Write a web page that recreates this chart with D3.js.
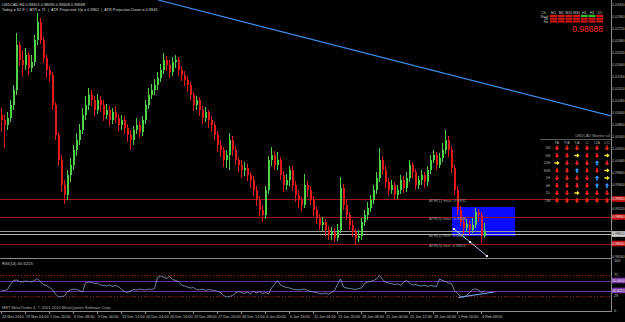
<!DOCTYPE html>
<html>
<head>
<meta charset="utf-8">
<script src="https://cdn.jsdelivr.net/npm/d3@7"></script>
<style>
  html, body { margin: 0; padding: 0; background: #000; }
  svg { display: block; }
  text { font-family: "Liberation Sans", Arial, sans-serif; }
</style>
</head>
<body>
<svg id="chart"></svg>
<script>
// USDCAD candles (one slot each)
const opens = [
  1.0100, 1.0090, 1.0080, 1.0094, 1.0120, 1.0150, 1.0240, 1.0210, 1.0200, 1.0220,
  1.0194, 1.0206, 1.0250, 1.0286, 1.0250, 1.0214, 1.0190, 1.0180, 1.0120, 1.0060,
  1.0010, 0.9960, 0.9940, 0.9980, 1.0000, 1.0030, 1.0050, 1.0070, 1.0100, 1.0120,
  1.0140, 1.0130, 1.0110, 1.0130, 1.0120, 1.0100, 1.0110, 1.0090, 1.0106, 1.0094,
  1.0080, 1.0090, 1.0074, 1.0060, 1.0050, 1.0070, 1.0080, 1.0066, 1.0090, 1.0120,
  1.0140, 1.0150, 1.0160, 1.0174, 1.0190, 1.0210, 1.0200, 1.0186, 1.0206, 1.0210,
  1.0190, 1.0180, 1.0170, 1.0160, 1.0140, 1.0120, 1.0130, 1.0110, 1.0094, 1.0106,
  1.0090, 1.0080, 1.0060, 1.0040, 1.0030, 1.0010, 1.0020, 1.0050, 1.0030, 1.0010,
  1.0000, 0.9990, 0.9994, 0.9980, 0.9970, 0.9950, 0.9930, 0.9910, 0.9900, 0.9950,
  1.0010, 1.0020, 1.0000, 1.0010, 0.9980, 0.9960, 0.9970, 0.9990, 0.9960, 0.9940,
  0.9930, 0.9920, 0.9960, 0.9950, 0.9930, 0.9910, 0.9894, 0.9880, 0.9886, 0.9870,
  0.9860, 0.9866, 0.9854, 0.9870, 0.9954, 0.9920, 0.9900, 0.9880, 0.9866, 0.9854,
  0.9858, 0.9886, 0.9900, 0.9914, 0.9930, 0.9950, 0.9974, 1.0010, 0.9990, 0.9966,
  0.9950, 0.9960, 0.9940, 0.9950, 0.9970, 0.9954, 0.9974, 1.0000, 0.9986, 0.9960,
  0.9970, 0.9980, 0.9966, 0.9990, 1.0010, 1.0020, 1.0000, 1.0014, 1.0030, 1.0050,
  1.0030, 0.9994, 0.9950, 0.9910, 0.9886, 0.9874, 0.9882, 0.9870, 0.9880, 0.9906,
  0.9900, 0.9858
];
const highs = [
  1.0114, 1.0100, 1.0106, 1.0130, 1.0160, 1.0264, 1.0246, 1.0230, 1.0234, 1.0226,
  1.0220, 1.0260, 1.0304, 1.0294, 1.0256, 1.0220, 1.0198, 1.0186, 1.0126, 1.0066,
  1.0020, 0.9970, 0.9990, 1.0014, 1.0040, 1.0064, 1.0082, 1.0114, 1.0138, 1.0154,
  1.0150, 1.0138, 1.0142, 1.0138, 1.0130, 1.0122, 1.0118, 1.0114, 1.0118, 1.0102,
  1.0100, 1.0098, 1.0082, 1.0070, 1.0078, 1.0094, 1.0088, 1.0098, 1.0130, 1.0154,
  1.0162, 1.0172, 1.0186, 1.0202, 1.0224, 1.0218, 1.0210, 1.0216, 1.0220, 1.0216,
  1.0198, 1.0188, 1.0178, 1.0166, 1.0146, 1.0138, 1.0136, 1.0118, 1.0116, 1.0110,
  1.0098, 1.0086, 1.0068, 1.0050, 1.0036, 1.0030, 1.0064, 1.0058, 1.0038, 1.0016,
  1.0010, 1.0006, 1.0002, 0.9986, 0.9978, 0.9958, 0.9938, 0.9920, 0.9958, 1.0018,
  1.0036, 1.0028, 1.0026, 1.0016, 0.9988, 0.9982, 0.9998, 0.9998, 0.9968, 0.9950,
  0.9936, 0.9982, 0.9968, 0.9958, 0.9938, 0.9918, 0.9902, 0.9896, 0.9892, 0.9878,
  0.9876, 0.9874, 0.9882, 0.9976, 0.9962, 0.9930, 0.9906, 0.9890, 0.9872, 0.9870,
  0.9894, 0.9910, 0.9926, 0.9940, 0.9960, 0.9986, 1.0034, 1.0018, 0.9998, 0.9974,
  0.9970, 0.9966, 0.9960, 0.9980, 0.9978, 0.9986, 1.0010, 1.0006, 0.9992, 0.9978,
  0.9990, 0.9986, 0.9998, 1.0020, 1.0030, 1.0026, 1.0024, 1.0044, 1.0070, 1.0058,
  1.0038, 1.0000, 0.9958, 0.9918, 0.9894, 0.9892, 0.9890, 0.9894, 0.9914, 0.9912,
  0.9906, 0.9884
];
const lows = [
  1.0066, 1.0034, 1.0070, 1.0086, 1.0110, 1.0140, 1.0198, 1.0176, 1.0190, 1.0180,
  1.0186, 1.0198, 1.0240, 1.0242, 1.0204, 1.0174, 1.0166, 1.0110, 1.0050, 0.9998,
  0.9946, 0.9922, 0.9930, 0.9966, 0.9990, 1.0018, 1.0040, 1.0062, 1.0090, 1.0110,
  1.0118, 1.0098, 1.0102, 1.0106, 1.0088, 1.0092, 1.0078, 1.0082, 1.0084, 1.0068,
  1.0070, 1.0062, 1.0046, 1.0030, 1.0040, 1.0062, 1.0054, 1.0058, 1.0082, 1.0112,
  1.0132, 1.0140, 1.0150, 1.0166, 1.0182, 1.0188, 1.0174, 1.0178, 1.0194, 1.0178,
  1.0168, 1.0158, 1.0146, 1.0130, 1.0108, 1.0110, 1.0098, 1.0082, 1.0086, 1.0074,
  1.0066, 1.0050, 1.0026, 1.0016, 0.9996, 0.9994, 0.9990, 1.0018, 1.0000, 0.9986,
  0.9974, 0.9978, 0.9968, 0.9954, 0.9938, 0.9918, 0.9898, 0.9886, 0.9892, 0.9942,
  0.9998, 0.9990, 0.9990, 0.9970, 0.9946, 0.9950, 0.9958, 0.9948, 0.9926, 0.9914,
  0.9908, 0.9914, 0.9936, 0.9920, 0.9898, 0.9882, 0.9870, 0.9868, 0.9858, 0.9850,
  0.9850, 0.9846, 0.9848, 0.9864, 0.9910, 0.9890, 0.9870, 0.9856, 0.9840, 0.9846,
  0.9850, 0.9878, 0.9890, 0.9906, 0.9922, 0.9942, 0.9966, 0.9980, 0.9954, 0.9938,
  0.9942, 0.9930, 0.9932, 0.9942, 0.9944, 0.9946, 0.9966, 0.9974, 0.9950, 0.9952,
  0.9960, 0.9954, 0.9958, 0.9982, 1.0004, 0.9990, 0.9994, 1.0006, 1.0022, 1.0016,
  0.9984, 0.9940, 0.9900, 0.9878, 0.9862, 0.9866, 0.9860, 0.9864, 0.9874, 0.9886,
  0.9844, 0.9854
];
const closes = [
  1.0090, 1.0080, 1.0094, 1.0120, 1.0150, 1.0240, 1.0210, 1.0200, 1.0220, 1.0194,
  1.0206, 1.0250, 1.0286, 1.0250, 1.0214, 1.0190, 1.0180, 1.0120, 1.0060, 1.0010,
  0.9960, 0.9940, 0.9980, 1.0000, 1.0030, 1.0050, 1.0070, 1.0100, 1.0120, 1.0140,
  1.0130, 1.0110, 1.0130, 1.0120, 1.0100, 1.0110, 1.0090, 1.0106, 1.0094, 1.0080,
  1.0090, 1.0074, 1.0060, 1.0050, 1.0070, 1.0080, 1.0066, 1.0090, 1.0120, 1.0140,
  1.0150, 1.0160, 1.0174, 1.0190, 1.0210, 1.0200, 1.0186, 1.0206, 1.0210, 1.0190,
  1.0180, 1.0170, 1.0160, 1.0140, 1.0120, 1.0130, 1.0110, 1.0094, 1.0106, 1.0090,
  1.0080, 1.0060, 1.0040, 1.0030, 1.0010, 1.0020, 1.0050, 1.0030, 1.0010, 1.0000,
  0.9990, 0.9994, 0.9980, 0.9970, 0.9950, 0.9930, 0.9910, 0.9900, 0.9950, 1.0010,
  1.0020, 1.0000, 1.0010, 0.9980, 0.9960, 0.9970, 0.9990, 0.9960, 0.9940, 0.9930,
  0.9920, 0.9960, 0.9950, 0.9930, 0.9910, 0.9894, 0.9880, 0.9886, 0.9870, 0.9860,
  0.9866, 0.9854, 0.9870, 0.9954, 0.9920, 0.9900, 0.9880, 0.9866, 0.9854, 0.9858,
  0.9886, 0.9900, 0.9914, 0.9930, 0.9950, 0.9974, 1.0010, 0.9990, 0.9966, 0.9950,
  0.9960, 0.9940, 0.9950, 0.9970, 0.9954, 0.9974, 1.0000, 0.9986, 0.9960, 0.9970,
  0.9980, 0.9966, 0.9990, 1.0010, 1.0020, 1.0000, 1.0014, 1.0030, 1.0050, 1.0030,
  0.9994, 0.9950, 0.9910, 0.9886, 0.9874, 0.9882, 0.9870, 0.9880, 0.9906, 0.9900,
  0.9858, 0.98688
];
// RSI(14) per candle
const rsiValues = [
  41, 40, 42, 52, 60, 61, 58, 57, 59, 58,
  57, 60, 64, 57, 52, 50, 46, 42, 33, 27,
  28, 29, 38, 41, 43, 42, 40, 37, 55, 57,
  56, 54, 55, 51, 50, 49, 51, 48, 50, 48,
  42, 38, 36, 39, 42, 41, 43, 42, 41, 43,
  42, 44, 66, 69, 67, 64, 68, 62, 60, 58,
  51, 49, 47, 45, 46, 42, 41, 43, 40, 42,
  41, 40, 38, 36, 30, 27, 28, 30, 35, 38,
  36, 34, 37, 33, 39, 35, 38, 34, 36, 33,
  45, 52, 60, 51, 48, 46, 45, 43, 42, 41,
  42, 43, 40, 38, 37, 36, 34, 33, 35, 33,
  36, 40, 52, 63, 47, 45, 44, 43, 42, 44,
  45, 54, 57, 58, 60, 63, 70, 62, 57, 55,
  54, 52, 53, 51, 56, 60, 55, 51, 52, 50,
  49, 51, 48, 50, 49, 48, 63, 60, 58, 55,
  54, 40, 34, 28, 27, 30, 36, 42, 43, 41,
  36, 40
];
const timeLabels = [
  "24 Nov 2010", "29 Nov 04:00", "1 Dec 20:00", "6 Dec 08:00", "9 Dec 00:00",
  "13 Dec 12:00", "16 Dec 04:00", "20 Dec 16:00", "23 Dec 08:00", "27 Dec 20:00",
  "30 Dec 12:00", "4 Jan 00:00", "6 Jan 16:00", "11 Jan 04:00", "13 Jan 20:00",
  "18 Jan 08:00", "21 Jan 00:00", "25 Jan 12:00", "28 Jan 04:00", "1 Feb 16:00",
  "4 Feb 08:00"
];
const priceTicks = [
  1.0320, 1.0296, 1.0272, 1.0248, 1.0224, 1.0200, 1.0176, 1.0152, 1.0128, 1.0104,
  1.0080, 1.0056, 1.0032, 1.0008, 0.9984, 0.9960, 0.9936, 0.9912, 0.9888, 0.9864,
  0.9840, 0.9816
];
const atrLevels = [0.9932, 0.9896, 0.9862, 0.9843];
const atrNames = ["ATR(1) max: 0.9932", "ATR(5) max: 0.9896", "ATR(1) min: 0.9862", "ATR(5) min: 0.9843"];
const bidPrice = 0.98688;
const trendIdx = [52.2, 203.2];
const trendPrice = [1.0330, 1.0098];
const boxIdx = [150.2, 171.2];
const boxPrice = [0.9916, 0.9858];
const atrPathIdx = [150.8, 156.2, 161.8];
const atrPathPrice = [0.9872, 0.9846, 0.9818];
const rsiLevels = [71, 29];
const rsiBands = [60, 40];
const rsiBandLabels = ["60.0000", "40.6215"];
const rsiTrendIdx = [152.2, 164.2];
const rsiTrendVal = [26, 37];

// multi timeframe box (top right) and signal monitor
const mtfColumns = ["M1", "M5", "M15", "M30", "H1", "H4", "D1"];
const mtfRows = ["Macd", "Str", "Sto"];
const mtfUp = [[0, 4], [0, 5]];
const monitorCols = ["PA", "P/A", "T/A", "CI", "C/A", "C/C"];
const monitorRows = ["1M:", "5M:", "15M:", "30M:", "1H:", "4H:", "1D:", "1W:"];
// d = down (red), r = sideways (yellow), u = up (blue)
const monitorSignals = [
  "dddddd",
  "ddrddr",
  "rdddud",
  "dduddr",
  "ddddur",
  "dddduu",
  "ddrddd",
  "dddddd"
];

const width = 625;
const height = 322;
const svg = d3.select("#chart").attr("width", width).attr("height", height);
svg.append("rect").attr("width", width).attr("height", height).attr("fill", "#000");

const xScale = d3.scaleLinear().domain([0, 203]).range([1.5, 610.5]);
const yScale = d3.scaleLinear().domain([0.9814, 1.0330]).range([258, 0]);
const rsiScale = d3.scaleLinear().domain([0, 100]).range([310.5, 260.5]);

svg.append("defs").append("clipPath").attr("id", "clipMain")
  .append("rect").attr("x", 0).attr("y", 0).attr("width", 611).attr("height", 258);
const main = svg.append("g").attr("clip-path", "url(#clipMain)");

// blue box
main.append("rect")
  .attr("x", xScale(boxIdx[0])).attr("y", yScale(boxPrice[0]))
  .attr("width", xScale(boxIdx[1]) - xScale(boxIdx[0]))
  .attr("height", yScale(boxPrice[1]) - yScale(boxPrice[0]))
  .attr("fill", "#0a0aff");

// ATR level lines
main.selectAll(".atr").data(atrLevels).enter().append("line")
  .attr("x1", 0).attr("x2", 611)
  .attr("y1", (d) => Math.round(yScale(d)) + 0.5)
  .attr("y2", (d) => Math.round(yScale(d)) + 0.5)
  .attr("stroke", (d, i) => (i === 2 ? "#b8b8b8" : "#a01414"))
  .attr("stroke-width", 1);
main.append("line")
  .attr("x1", 0).attr("x2", 611)
  .attr("y1", Math.round(yScale(bidPrice)) + 0.5)
  .attr("y2", Math.round(yScale(bidPrice)) + 0.5)
  .attr("stroke", "#9a9a9a");

// candles
const candles = closes.map((c, i) => ({ i: i, o: opens[i], h: highs[i], l: lows[i], c: c }));
let candleColor = (d) => (d.c >= d.o ? "#4fd24a" : "#e01a1a");
main.selectAll(".wick").data(candles).enter().append("line")
  .attr("x1", (d) => Math.floor(xScale(d.i)) + 0.5)
  .attr("x2", (d) => Math.floor(xScale(d.i)) + 0.5)
  .attr("y1", (d) => yScale(d.h))
  .attr("y2", (d) => yScale(d.l))
  .attr("stroke", candleColor);
main.selectAll(".body").data(candles).enter().append("rect")
  .attr("x", (d) => Math.floor(xScale(d.i)))
  .attr("width", 2)
  .attr("y", (d) => yScale(Math.max(d.o, d.c)))
  .attr("height", (d) => Math.max(1, Math.abs(yScale(d.o) - yScale(d.c))))
  .attr("fill", candleColor);

// trendline
main.append("line")
  .attr("x1", xScale(trendIdx[0])).attr("y1", yScale(trendPrice[0]))
  .attr("x2", xScale(trendIdx[1])).attr("y2", yScale(trendPrice[1]))
  .attr("stroke", "#3d8ef0").attr("stroke-width", 1.2);

// ATR projection line
const atrPts = atrPathIdx.map((d, i) => [xScale(d), yScale(atrPathPrice[i])]);
main.append("path")
  .attr("d", d3.line()(atrPts))
  .attr("fill", "none").attr("stroke", "#a8c8f0").attr("stroke-width", 1);
main.selectAll(".atrpt").data(atrPts).enter().append("rect")
  .attr("x", (d) => d[0] - 1).attr("y", (d) => d[1] - 1)
  .attr("width", 2).attr("height", 2).attr("fill", "#ffffff");

// ATR text labels
main.selectAll(".atrtxt").data(atrLevels).enter().append("text")
  .attr("x", 429)
  .attr("y", (d) => yScale(d) + 3.2)
  .attr("font-size", 4.2)
  .attr("fill", "#9a9a9a")
  .text((d, i) => atrNames[i]);

// headline text
svg.append("text").attr("x", 2).attr("y", 5.5).attr("font-size", 3.9)
  .attr("font-family", "Liberation Serif").attr("fill", "#d0d0d0")
  .text("USDCAD,H4  0.98652 0.98695 0.98608 0.98688");
svg.append("text").attr("x", 2).attr("y", 10.5).attr("font-size", 3.9)
  .attr("font-family", "Liberation Serif").attr("fill", "#d0d0d0")
  .attr("xml:space", "preserve")
  .text("Today = 82.9  |  ATR = 71  |  ATR Projection Up = 0.9962  |  ATR Projection Down = 0.9843");

// multi timeframe box
const mtfX = (j) => 550 + j * 7.7;
svg.selectAll(".mtfh").data(mtfColumns).enter().append("text")
  .attr("x", (d, j) => mtfX(j) + 3.5).attr("y", 13.5)
  .attr("text-anchor", "middle").attr("font-size", 3.5).attr("fill", "#c8c8c8")
  .text((d) => d);
svg.append("text").attr("x", 546).attr("y", 13.5).attr("text-anchor", "end")
  .attr("font-size", 3.5).attr("fill", "#c8c8c8").text("Ch");
mtfRows.forEach((r, k) => {
  svg.append("text").attr("x", 548).attr("y", 17.5 + k * 2.8)
    .attr("text-anchor", "end").attr("font-size", 3).attr("fill", "#c8c8c8").text(r);
  mtfColumns.forEach((c, j) => {
    let up = mtfUp.some((p) => p[0] === k && p[1] === j);
    svg.append("rect").attr("x", mtfX(j)).attr("y", 14.8 + k * 2.8)
      .attr("width", 7).attr("height", 2.2)
      .attr("fill", up ? "#2fbf2f" : "#d01515");
  });
});
svg.append("text").attr("x", 603).attr("y", 31.5).attr("text-anchor", "end")
  .attr("font-size", 8.5).attr("fill", "#ff2a2a").text("0.98688");

// signal monitor
const monX = (j) => 557 + j * 10;
const monY = (k) => 148 + k * 7.5;
svg.append("text").attr("x", 610).attr("y", 137).attr("text-anchor", "end")
  .attr("font-size", 3.8).attr("fill", "#a0a0a0").text("USDCAD Monitor v4");
svg.append("line").attr("x1", 540).attr("x2", 611).attr("y1", 139.5).attr("y2", 139.5)
  .attr("stroke", "#5a5a5a");
svg.selectAll(".monh").data(monitorCols).enter().append("text")
  .attr("x", (d, j) => monX(j)).attr("y", 144)
  .attr("text-anchor", "middle").attr("font-size", 3.4).attr("fill", "#b0b0b0")
  .text((d) => d);
svg.selectAll(".monr").data(monitorRows).enter().append("text")
  .attr("x", 551).attr("y", (d, k) => monY(k) + 1.3)
  .attr("text-anchor", "end").attr("font-size", 3.4).attr("fill", "#b0b0b0")
  .text((d) => d);
const arrowShape = "M-0.8,-2.6 L0.8,-2.6 L0.8,0 L2.3,0 L0,2.6 L-2.3,0 L-0.8,0 Z";
monitorSignals.forEach((row, k) => {
  row.split("").forEach((s, j) => {
    let rot = s === "d" ? 0 : s === "r" ? -90 : 180;
    let col = s === "d" ? "#ff2222" : s === "r" ? "#ffee33" : "#3399ff";
    svg.append("path").attr("d", arrowShape)
      .attr("transform", "translate(" + monX(j) + "," + monY(k) + ") rotate(" + rot + ")")
      .attr("fill", col);
  });
});

// price axis
svg.append("line").attr("x1", 611.5).attr("x2", 611.5).attr("y1", 0).attr("y2", 312)
  .attr("stroke", "#8a8a8a");
// markers on the axis: red ATR levels and the grey one
const markers = atrLevels.map((d, i) => ({ p: d, grey: i === 2 }));
// tick labels hidden behind a marker are left out, as the terminal does
const freeTicks = priceTicks.filter((t) => markers.every((m) => Math.abs(yScale(t) - yScale(m.p)) > 5));
svg.selectAll(".ptick").data(freeTicks).enter().append("text")
  .attr("x", 612.6).attr("y", (d) => yScale(d) + 1.2)
  .attr("font-size", 3.3).attr("fill", "#c0c0c0")
  .text((d) => d.toFixed(5));
svg.selectAll(".ptickm").data(priceTicks).enter().append("line")
  .attr("x1", 611).attr("x2", 612.5)
  .attr("y1", (d) => Math.round(yScale(d)) + 0.5).attr("y2", (d) => Math.round(yScale(d)) + 0.5)
  .attr("stroke", "#8a8a8a");
markers.forEach((m) => {
  let y = yScale(m.p);
  svg.append("rect").attr("x", 612).attr("y", y - 2.8).attr("width", 13).attr("height", 5.6)
    .attr("fill", m.grey ? "#d8d8d8" : "#c41010");
  svg.append("text").attr("x", 612.6).attr("y", y + 1.2).attr("font-size", 3.3)
    .attr("fill", m.grey ? "#000" : "#fff").text(m.p.toFixed(5));
});

// panel borders
svg.append("line").attr("x1", 0).attr("x2", 611).attr("y1", 258.5).attr("y2", 258.5).attr("stroke", "#8a8a8a");
svg.append("line").attr("x1", 0).attr("x2", 611).attr("y1", 311.5).attr("y2", 311.5).attr("stroke", "#8a8a8a");

// RSI panel
svg.selectAll(".rlev").data(rsiLevels).enter().append("line")
  .attr("x1", 0).attr("x2", 611)
  .attr("y1", (d) => Math.round(rsiScale(d)) + 0.5).attr("y2", (d) => Math.round(rsiScale(d)) + 0.5)
  .attr("stroke", "#a81c1c").attr("stroke-dasharray", "1,2");
svg.selectAll(".rband").data(rsiBands).enter().append("line")
  .attr("x1", 0).attr("x2", 611)
  .attr("y1", (d) => Math.round(rsiScale(d)) + 0.5).attr("y2", (d) => Math.round(rsiScale(d)) + 0.5)
  .attr("stroke", "#6a2f9a");
svg.append("path")
  .attr("d", d3.line().x((d, i) => xScale(i)).y((d) => rsiScale(d))(rsiValues))
  .attr("fill", "none").attr("stroke", "#8e9fd6").attr("stroke-width", 0.8);
svg.append("line")
  .attr("x1", xScale(rsiTrendIdx[0])).attr("y1", rsiScale(rsiTrendVal[0]))
  .attr("x2", xScale(rsiTrendIdx[1])).attr("y2", rsiScale(rsiTrendVal[1]))
  .attr("stroke", "#7fb0ff").attr("stroke-width", 1);
svg.append("text").attr("x", 2).attr("y", 265).attr("font-size", 4.2)
  .attr("fill", "#c0c0c0").text("RSI(14) 40.6215");
[100, 71, 29, 0].forEach((v) => {
  svg.append("text").attr("x", 614).attr("y", rsiScale(v) + 1.4).attr("font-size", 3.8)
    .attr("fill", "#c0c0c0").text(v);
});
rsiBands.forEach((v, k) => {
  svg.append("rect").attr("x", 612).attr("y", rsiScale(v) - 2.8).attr("width", 13).attr("height", 5.6)
    .attr("fill", "#7a3aa8");
  svg.append("text").attr("x", 612.6).attr("y", rsiScale(v) + 1.2).attr("font-size", 3.3)
    .attr("fill", "#fff").text(rsiBandLabels[k]);
});
svg.append("text").attr("x", 2).attr("y", 309).attr("font-size", 4)
  .attr("fill", "#b0b0b0").text("MBT MetaTrader 4, \u00a9 2001-2010 MetaQuotes Software Corp.");

// time axis
svg.selectAll(".tlab").data(timeLabels).enter().append("text")
  .attr("x", (d, k) => xScale(k * 8) + 0.5)
  .attr("y", 318)
  .attr("font-size", 3.8).attr("fill", "#c0c0c0")
  .text((d) => d);
svg.selectAll(".ttick").data(timeLabels).enter().append("line")
  .attr("x1", (d, k) => Math.floor(xScale(k * 8)) + 0.5)
  .attr("x2", (d, k) => Math.floor(xScale(k * 8)) + 0.5)
  .attr("y1", 312).attr("y2", 314).attr("stroke", "#8a8a8a");
</script>
</body>
</html>
